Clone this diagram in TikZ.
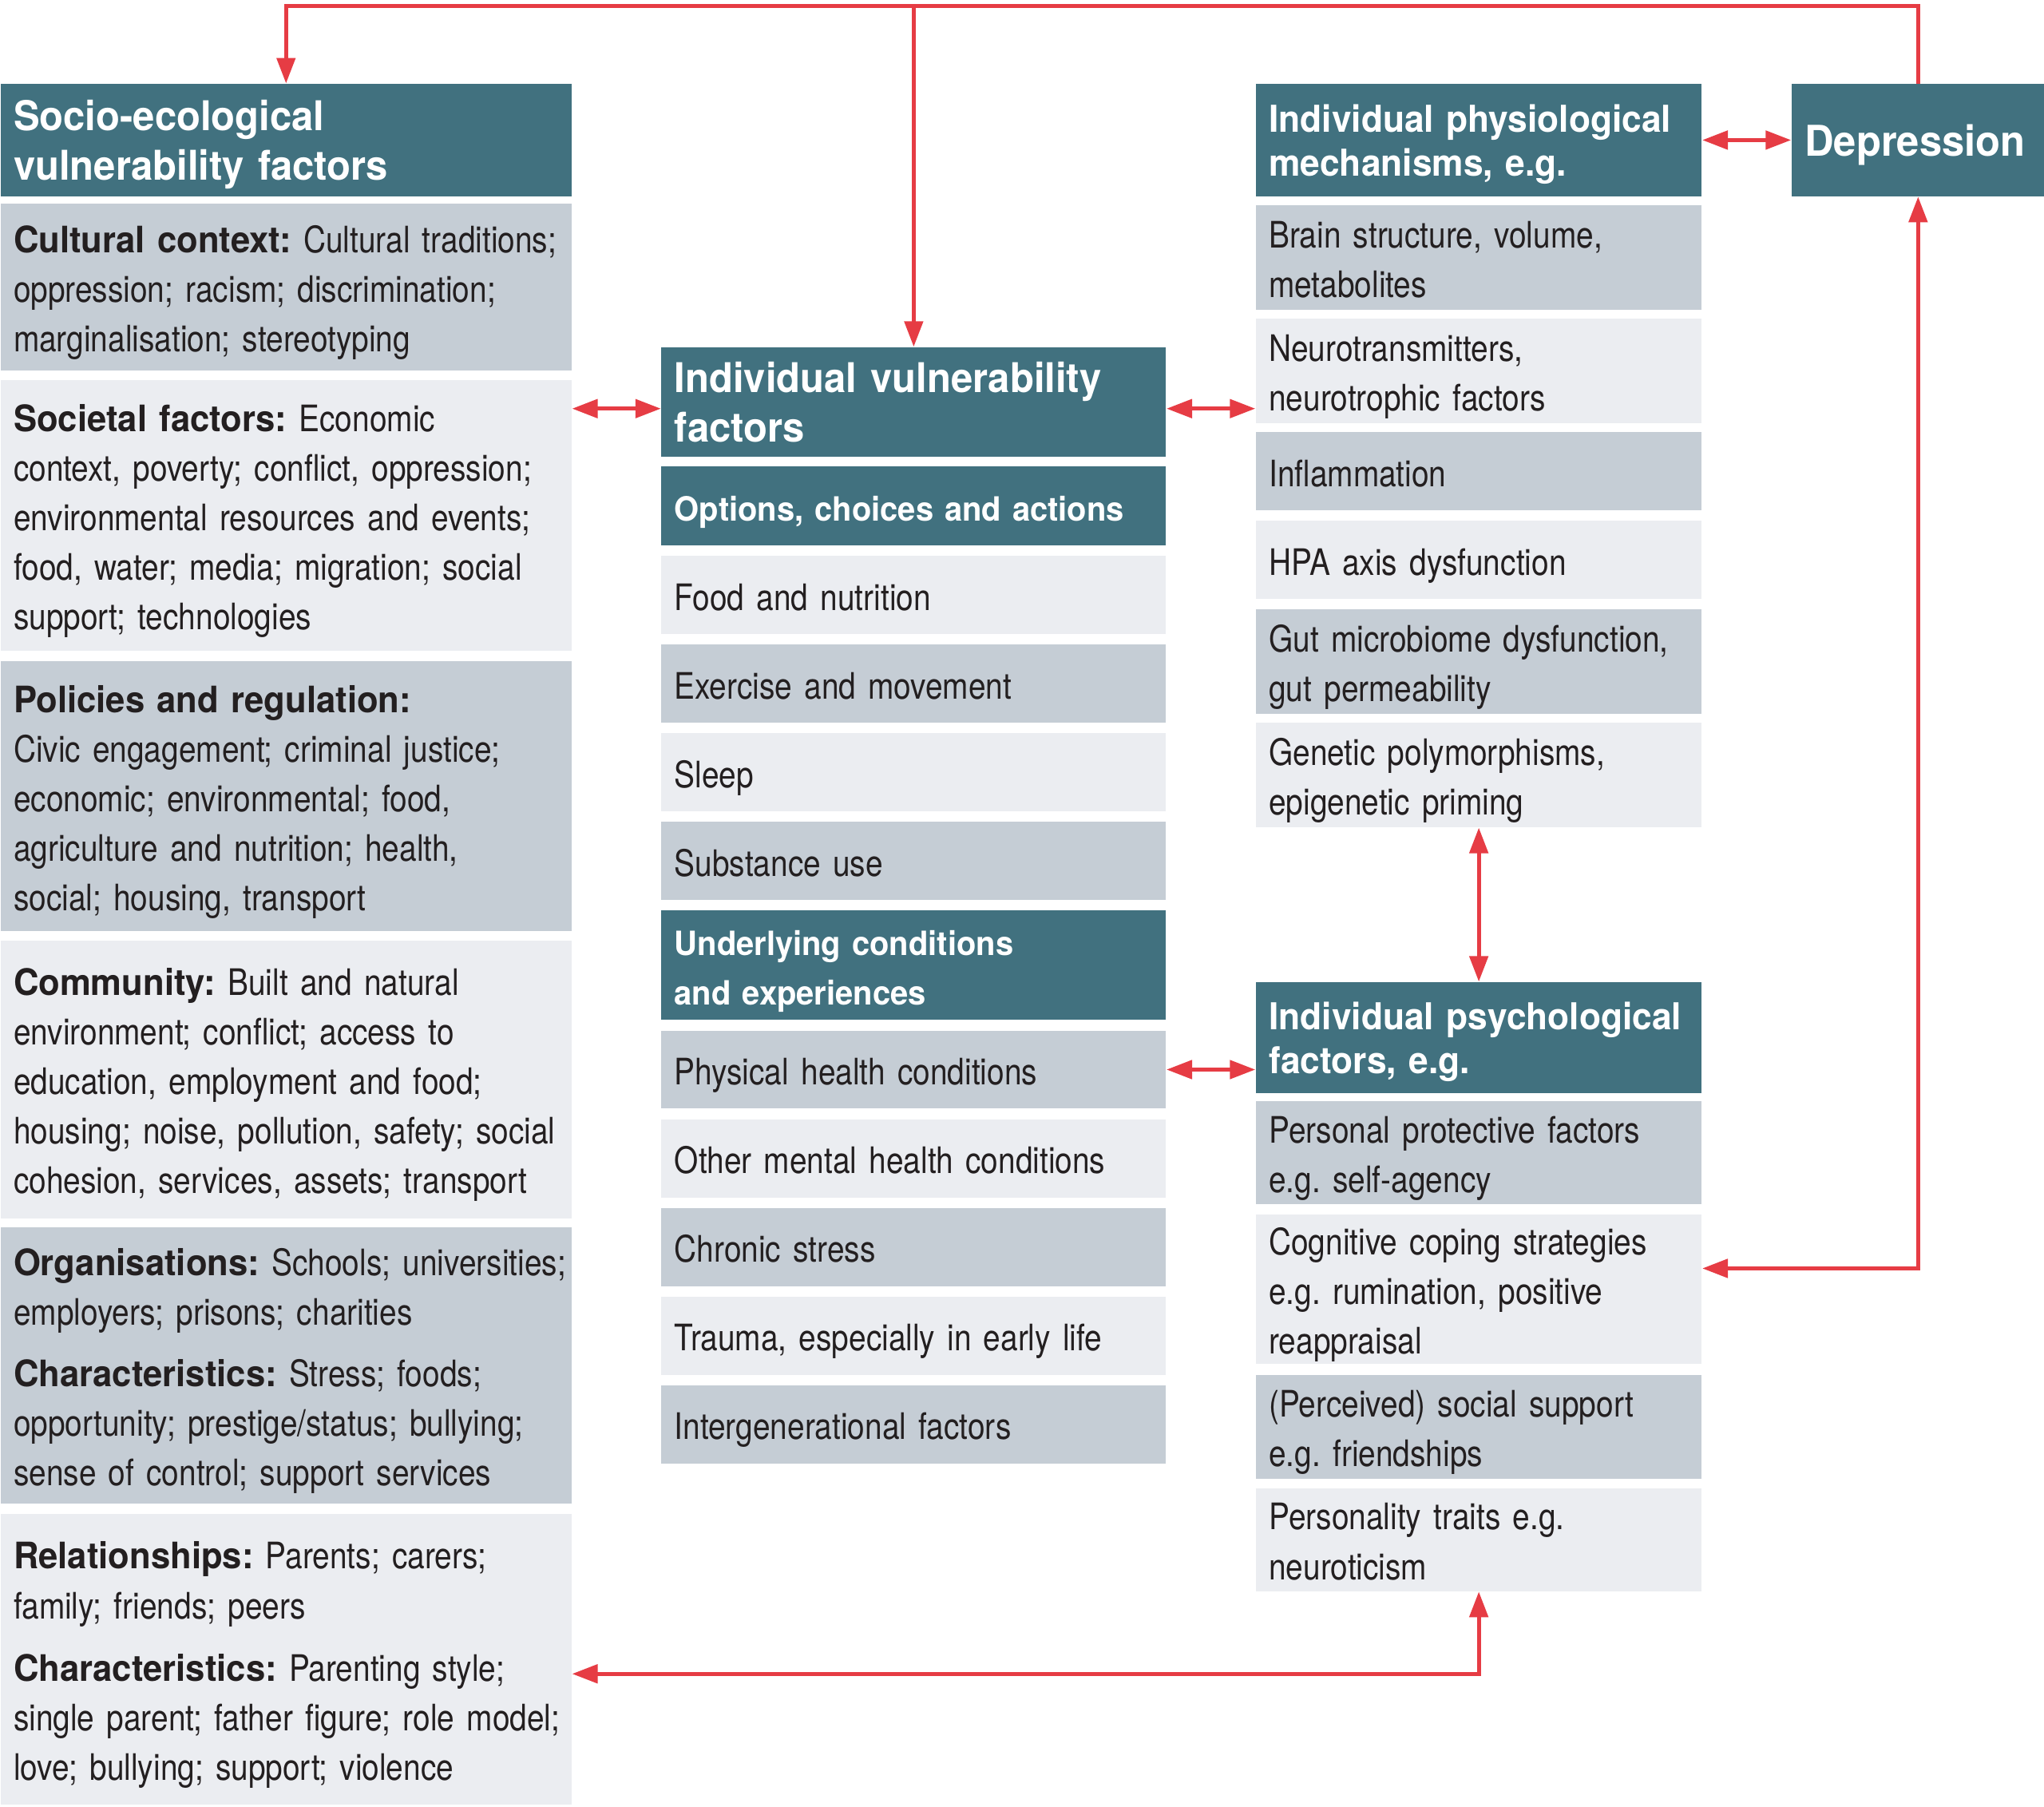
\documentclass[tikz,border=0pt]{standalone}
\usepackage{fontspec}
\setmainfont{TeX Gyre Heros}[UprightFeatures={FakeStretch=0.85}, BoldFeatures={FakeStretch=0.955}]
\usetikzlibrary{arrows.meta}
\definecolor{hdrcol}{HTML}{41717F}
\definecolor{boxdark}{HTML}{C5CDD5}
\definecolor{boxlight}{HTML}{EBEDF1}
\definecolor{linkred}{HTML}{E63C44}
\definecolor{txt}{HTML}{231F20}
\frenchspacing
\newcommand{\upx}{0.01633cm}
\newcommand{\bodyfont}{\fontsize{13pt}{17.66pt}\selectfont}
\newcommand{\hdrfont}{\fontsize{14.6pt}{17.66pt}\selectfont\bfseries}
\newcommand{\hdrtightfont}{\fontsize{13.2pt}{15.8pt}\selectfont\bfseries}
\newcommand{\subhdrfont}{\fontsize{11.9pt}{17.66pt}\selectfont\bfseries}
\newcommand{\deprfont}{\fontsize{15.1pt}{19pt}\selectfont\bfseries}
\newcommand{\closestrut}{\strut\par\kern-3.7pt}
\begin{document}
\begin{tikzpicture}[x=\upx, y=-\upx,
  box/.style={anchor=north west, inner xsep=10*\upx, inner ysep=0pt, align=left,
    text=txt, font=\bodyfont,
    execute at begin node={\rightskip=-20pt plus 1fil\relax\strut},
    execute at end node=\closestrut},
  dark/.style={box, fill=boxdark},
  light/.style={box, fill=boxlight},
  hdr/.style={box, fill=hdrcol, text=white, font=\hdrfont},
  hdrtight/.style={hdr, font=\hdrtightfont},
  subhdr/.style={hdr, font=\subhdrfont},
  leftw/.style={text width=418*\upx},
  midw/.style={text width=367*\upx},
  rightw/.style={text width=322*\upx},
  tip/.tip={Triangle[length=3.2mm, width=2.3mm]},
  link/.style={draw=linkred, line width=1.4pt},
  biarrow/.style={link, tip-tip}]
\useasboundingbox (0,0) rectangle (1568,1386);

\node[hdr, leftw, minimum height=86*\upx] (socio) at (0,64) {Socio-ecological\\vulnerability factors};
\node[dark, leftw, minimum height=128*\upx] (cult) at (0,156) {\textbf{Cultural context:} Cultural traditions;\\oppression; racism; discrimination;\\marginalisation; stereotyping};
\node[light, leftw, minimum height=208*\upx] (societal) at (0,291) {\textbf{Societal factors:} Economic\\context, poverty; conflict, oppression;\\environmental resources and events;\\food, water; media; migration; social\\support; technologies};
\node[dark, leftw, minimum height=207*\upx] (policy) at (0,507) {\textbf{Policies and regulation:}\\Civic engagement; criminal justice;\\economic; environmental; food,\\agriculture and nutrition; health,\\social; housing, transport};
\node[light, leftw, minimum height=213*\upx] (commun) at (0,721) {\textbf{Community:} Built and natural\\environment; conflict; access to\\education, employment and food;\\housing; noise, pollution, safety; social\\cohesion, services, assets; transport};
\node[dark, leftw, minimum height=212*\upx] (organ) at (0,941) {\textbf{Organisations:} Schools; universities;\\employers; prisons; charities\\[4.4pt]\textbf{Characteristics:} Stress; foods;\\opportunity; prestige/status; bullying;\\sense of control; support services};
\node[light, leftw, minimum height=223*\upx] (relat) at (0,1161) {\textbf{Relationships:} Parents; carers;\\family; friends; peers\\[4.6pt]\textbf{Characteristics:} Parenting style;\\single parent; father figure; role model;\\love; bullying; support; violence};

\node[hdr, midw, minimum height=84*\upx] (indvul) at (507,266) {Individual vulnerability\\factors};
\node[subhdr, midw, minimum height=61*\upx] (options) at (507,357) {Options, choices and actions};
\node[light, midw, minimum height=60*\upx] (food) at (507,426) {Food and nutrition};
\node[dark, midw, minimum height=60*\upx] (exer) at (507,494) {Exercise and movement};
\node[light, midw, minimum height=60*\upx] (sleep) at (507,562) {Sleep};
\node[dark, midw, minimum height=60*\upx] (subst) at (507,630) {Substance use};
\node[subhdr, midw, minimum height=84*\upx] (under) at (507,698) {Underlying conditions\\and experiences};
\node[dark, midw, minimum height=60*\upx] (physh) at (507,790) {Physical health conditions};
\node[light, midw, minimum height=60*\upx] (mental) at (507,858) {Other mental health conditions};
\node[dark, midw, minimum height=60*\upx] (stress) at (507,926) {Chronic stress};
\node[light, midw, minimum height=60*\upx] (trauma) at (507,994) {Trauma, especially in early life};
\node[dark, midw, minimum height=60*\upx] (intergen) at (507,1062) {Intergenerational factors};

\node[hdrtight, rightw, minimum height=86*\upx] (physio) at (963,64) {Individual physiological\\mechanisms, e.g.};
\node[dark, rightw, minimum height=80*\upx] (brain) at (963,157) {Brain structure, volume,\\metabolites};
\node[light, rightw, minimum height=80*\upx] (neuro) at (963,244) {Neurotransmitters,\\neurotrophic factors};
\node[dark, rightw, minimum height=60*\upx] (inflam) at (963,331) {Inflammation};
\node[light, rightw, minimum height=60*\upx] (hpa) at (963,399) {HPA axis dysfunction};
\node[dark, rightw, minimum height=80*\upx] (gut) at (963,467) {Gut microbiome dysfunction,\\gut permeability};
\node[light, rightw, minimum height=80*\upx] (genet) at (963,554) {Genetic polymorphisms,\\epigenetic priming};
\node[hdrtight, rightw, minimum height=85*\upx] (psych) at (963,753) {Individual psychological\\factors, e.g.};
\node[dark, rightw, minimum height=79*\upx] (protect) at (963,844) {Personal protective factors\\e.g. self-agency};
\node[light, rightw, minimum height=115*\upx] (coping) at (963,931) {Cognitive coping strategies\\e.g. rumination, positive\\reappraisal};
\node[dark, rightw, minimum height=80*\upx] (support) at (963,1054) {(Perceived) social support\\e.g. friendships};
\node[light, rightw, minimum height=79*\upx] (person) at (963,1141) {Personality traits e.g.\\neuroticism};

\node[hdr, font=\deprfont, align=center, text width=174*\upx, minimum height=86*\upx] (depr) at (1374,64) {Depression};

\coordinate (topline) at (0,4.5);
\coordinate (midarrow) at ([yshift=-5*\upx]indvul.west);
\draw[link, -tip] (depr.north) -- (depr.north |- topline) -| (socio.north);
\draw[link, -tip] (indvul.north |- topline) -- (indvul.north);
\draw[biarrow] (societal.east |- midarrow) -- (midarrow);
\draw[biarrow] (indvul.east |- midarrow) -- (neuro.west |- midarrow);
\draw[biarrow] (physio.east) -- (depr.west);
\draw[biarrow] (genet.south) -- (psych.north);
\draw[biarrow] (physh.east) -- (psych.west |- physh.east);
\draw[biarrow] ([yshift=16*\upx]coping.east) -| (depr.south);
\draw[biarrow] (person.south) |- ([yshift=-11*\upx]relat.east);
\end{tikzpicture}
\end{document}
